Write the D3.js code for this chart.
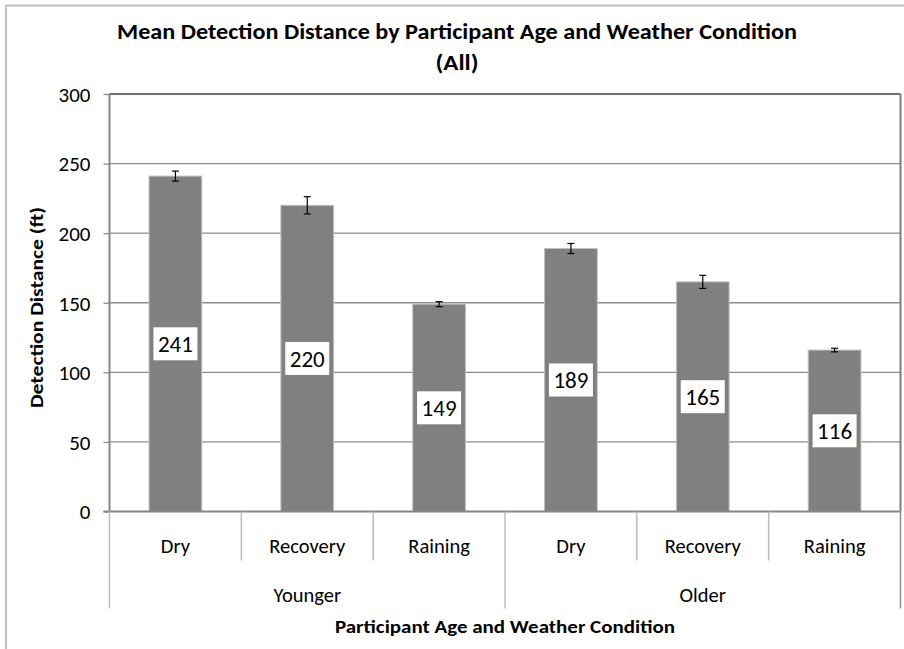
<!DOCTYPE html>
<html>
<head>
<meta charset="utf-8">
<script src="https://cdn.jsdelivr.net/npm/d3@7"></script>
<style>
  body { margin: 0; background: #fff; }
  text { font-family: Carlito, "Liberation Sans Narrow", "Open Sans", sans-serif; fill: #000; }
</style>
</head>
<body>
<div id="chart"></div>
<script>
// data
let groups = ["Younger", "Older"];
let conditions = ["Dry", "Recovery", "Raining"];
let means = [241, 220, 149, 189, 165, 116];
let errs = [3.6, 6.2, 1.8, 3.6, 4.7, 1.3];
let yTicks = [0, 50, 100, 150, 200, 250, 300];

let svgWidth = 904;
let svgHeight = 649;

let margin = { top: 94, right: 3.5, bottom: 137.5, left: 109.5 };
let width = svgWidth - margin.left - margin.right;
let height = svgHeight - margin.top - margin.bottom;

let svg = d3.select("#chart")
  .append("svg")
  .attr("width", svgWidth)
  .attr("height", svgHeight);

// outer chart border (runs off the picture)
svg.append("rect")
  .attr("x", 6).attr("y", 5.5)
  .attr("width", 920).attr("height", 700)
  .attr("fill", "none")
  .attr("stroke", "#bfbfbf")
  .attr("stroke-width", 2);

let chartGroup = svg.append("g")
  .attr("transform", `translate(${margin.left}, ${margin.top})`);

// one key per bar
let keys = [];
groups.forEach(g => conditions.forEach(c => keys.push(g + "|" + c)));

const xScale = d3.scaleBand()
  .domain(keys)
  .range([0, width])
  .padding(0);

const yScale = d3.scaleLinear()
  .domain([0, 300])
  .range([height, 0]);

// gridlines
chartGroup.append("g")
  .selectAll("line")
  .data(yTicks.filter(t => t > 0 && t < 300))
  .enter()
  .append("line")
  .attr("x1", 0).attr("x2", width)
  .attr("y1", d => yScale(d)).attr("y2", d => yScale(d))
  .attr("stroke", "#8c8c8c")
  .attr("stroke-width", 1.3);

// plot area frame: top and right
chartGroup.append("line")
  .attr("x1", 0).attr("x2", width)
  .attr("y1", yScale(300)).attr("y2", yScale(300))
  .attr("stroke", "#404040").attr("stroke-width", 1.5);
chartGroup.append("line")
  .attr("x1", width).attr("x2", width)
  .attr("y1", yScale(300)).attr("y2", height)
  .attr("stroke", "#7f7f7f").attr("stroke-width", 2);

// bars
let barW = xScale.bandwidth() * 0.4;
chartGroup.append("g")
  .selectAll("rect")
  .data(means)
  .enter()
  .append("rect")
  .attr("x", (d, i) => xScale(keys[i]) + xScale.bandwidth() / 2 - barW / 2)
  .attr("y", d => yScale(d))
  .attr("width", barW)
  .attr("height", d => height - yScale(d))
  .attr("fill", "#808080")
  .attr("stroke", "#c0c0c0")
  .attr("stroke-width", 1);

// error bars
let eb = chartGroup.append("g").attr("stroke", "#000").attr("stroke-width", 1.2);
means.forEach(function(m, i) {
  let cx = xScale(keys[i]) + xScale.bandwidth() / 2;
  let y1 = yScale(m + errs[i]);
  let y2 = yScale(m - errs[i]);
  eb.append("line").attr("x1", cx).attr("x2", cx).attr("y1", y1).attr("y2", y2);
  eb.append("line").attr("x1", cx - 3.5).attr("x2", cx + 3.5).attr("y1", y1).attr("y2", y1);
  eb.append("line").attr("x1", cx - 3.5).attr("x2", cx + 3.5).attr("y1", y2).attr("y2", y2);
});

// data labels in white boxes
let lbl = chartGroup.append("g")
  .selectAll("g")
  .data(means)
  .enter()
  .append("g")
  .attr("transform", (d, i) => `translate(${xScale(keys[i]) + xScale.bandwidth() / 2}, ${(yScale(d) + height) / 2})`);
lbl.append("rect")
  .attr("x", -22).attr("y", -16.5)
  .attr("width", 44).attr("height", 33)
  .attr("fill", "#fff");
lbl.append("text")
  .attr("text-anchor", "middle")
  .attr("dy", "0.36em")
  .attr("font-size", "23px")
  .text(d => d);

// y axis
const leftAxis = d3.axisLeft(yScale).tickValues(yTicks).tickSize(6).tickPadding(13);
let yAxisG = chartGroup.append("g").call(leftAxis);
yAxisG.select(".domain").remove();
yAxisG.selectAll(".tick line").attr("stroke", "#8c8c8c").attr("stroke-width", 1.3);
yAxisG.selectAll(".tick text").attr("font-size", "21px").attr("font-family", null).attr("dy", "0.35em");
chartGroup.append("line")
  .attr("x1", 0).attr("x2", 0)
  .attr("y1", 0).attr("y2", height)
  .attr("stroke", "#868686").attr("stroke-width", 2);

// x axis line
chartGroup.append("line")
  .attr("x1", -6).attr("x2", width)
  .attr("y1", height).attr("y2", height)
  .attr("stroke", "#868686").attr("stroke-width", 2);

// category separators
let xs = chartGroup.append("g").attr("stroke", "#bcbcbc").attr("stroke-width", 1.5);
keys.forEach(function(k, i) {
  let x0 = xScale(k);
  let isGroupEdge = i % conditions.length === 0;
  xs.append("line")
    .attr("x1", x0).attr("x2", x0)
    .attr("y1", height).attr("y2", height + (isGroupEdge ? 97 : 49));
});
xs.append("line")
  .attr("x1", width).attr("x2", width)
  .attr("y1", height).attr("y2", height + 97)
  .attr("stroke", "#8c8c8c");

// condition labels
chartGroup.append("g")
  .selectAll("text")
  .data(keys)
  .enter()
  .append("text")
  .attr("x", d => xScale(d) + xScale.bandwidth() / 2)
  .attr("y", height + 34)
  .attr("dy", "0.35em")
  .attr("text-anchor", "middle")
  .attr("font-size", "20.5px")
  .text(d => d.split("|")[1]);

// group labels
chartGroup.append("g")
  .selectAll("text")
  .data(groups)
  .enter()
  .append("text")
  .attr("x", g => {
    let first = xScale(g + "|" + conditions[0]);
    let last = xScale(g + "|" + conditions[conditions.length - 1]) + xScale.bandwidth();
    return (first + last) / 2;
  })
  .attr("y", height + 83)
  .attr("dy", "0.35em")
  .attr("text-anchor", "middle")
  .attr("font-size", "20.5px")
  .text(d => d);

// titles
svg.append("text")
  .attr("x", 457).attr("y", 31)
  .attr("dy", "0.35em")
  .attr("text-anchor", "middle")
  .attr("font-size", "22px")
  .attr("font-weight", "bold")
  .attr("textLength", 680)
  .attr("lengthAdjust", "spacingAndGlyphs")
  .text("Mean Detection Distance by Participant Age and Weather Condition");
svg.append("text")
  .attr("x", 457).attr("y", 62)
  .attr("dy", "0.35em")
  .attr("text-anchor", "middle")
  .attr("font-size", "22px")
  .attr("font-weight", "bold")
  .attr("textLength", 43)
  .attr("lengthAdjust", "spacingAndGlyphs")
  .text("(All)");

svg.append("text")
  .attr("transform", `translate(37, 307.5) rotate(-90)`)
  .attr("dy", "0.35em")
  .attr("text-anchor", "middle")
  .attr("font-size", "18px")
  .attr("font-weight", "bold")
  .attr("textLength", 201)
  .attr("lengthAdjust", "spacingAndGlyphs")
  .text("Detection Distance  (ft)");

svg.append("text")
  .attr("x", margin.left + width / 2).attr("y", 627)
  .attr("dy", "0.35em")
  .attr("text-anchor", "middle")
  .attr("font-size", "18px")
  .attr("font-weight", "bold")
  .attr("textLength", 340)
  .attr("lengthAdjust", "spacingAndGlyphs")
  .text("Participant Age and Weather Condition");
</script>
</body>
</html>
